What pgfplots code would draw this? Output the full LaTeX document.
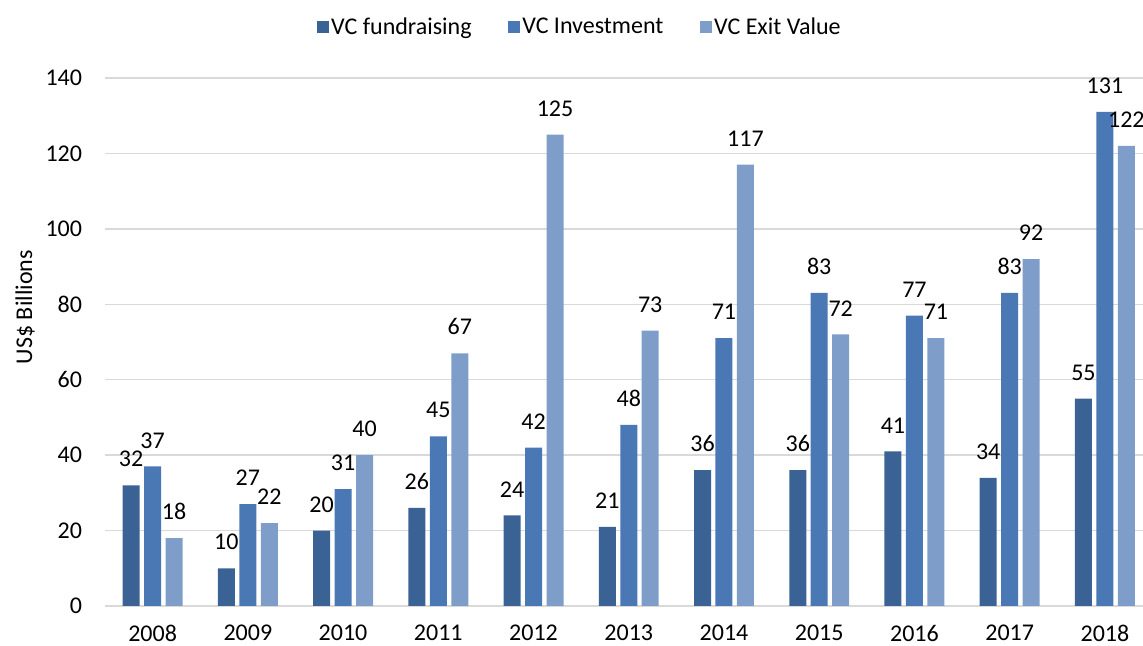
\documentclass[border=0pt]{standalone}
\usepackage{fontspec}
\setmainfont{Carlito}
\usepackage{pgfplots}
\pgfplotsset{compat=1.18}
\definecolor{cA}{RGB}{59,98,148}
\definecolor{cB}{RGB}{74,120,180}
\definecolor{cC}{RGB}{126,158,201}
\definecolor{gridc}{RGB}{217,217,217}
\newcommand\cf{\fontsize{18}{21.6}\selectfont}
\begin{document}
\begin{tikzpicture}
\useasboundingbox (-78.75pt,-30pt) rectangle (778.5pt,454.5pt);
\begin{axis}[
  at={(0pt,0pt)}, anchor=south west,
  scale only axis, width=778.5pt, height=396pt,
  ybar, bar width=12.75pt,
  xmin=-0.5, xmax=10.40, ymin=0, ymax=140,
  ytick={0,20,...,140},
  xtick={0,...,10},
  xticklabels={2008,2009,2010,2011,2012,2013,2014,2015,2016,2017,2018},
  /pgf/number format/assume math mode=true,
  tick label style={font=\cf, text=black},
  yticklabel style={inner sep=0pt, xshift=-17pt},
  xticklabel style={inner sep=0pt, yshift=-14pt},
  major tick length=0pt,
  ymajorgrids, grid style={gridc, line width=1.1pt},
  axis x line*=bottom, axis y line*=left,
  y axis line style={draw=none},
  x axis line style={gridc, line width=1.1pt, -},
  ylabel={US\$ Billions},
  ylabel style={font=\cf, at={(axis description cs:-0.077,0.566)}, anchor=center, rotate=0},
  nodes near coords,
  nodes near coords style={font=\cf, text=black, inner sep=0pt, anchor=south, yshift=13.5pt},
  legend columns=3,
  legend style={draw=none, fill=none, font=\cf, at={(axis description cs:0.4576,1.125)}, anchor=north,
    /tikz/every even column/.append style={column sep=25pt}},
  legend image code/.code={\fill[#1] (0pt,-4.5pt) rectangle (9pt,4.5pt);},
]
\addplot[fill=cA, draw=none, bar shift=-16.1pt] coordinates {(0,32) (1,10) (2,20) (3,26) (4,24) (5,21) (6,36) (7,36) (8,41) (9,34) (10,55)};
\addplot[fill=cB, draw=none, bar shift=0pt] coordinates {(0,37) (1,27) (2,31) (3,45) (4,42) (5,48) (6,71) (7,83) (8,77) (9,83) (10,131)};
\addplot[fill=cC, draw=none, bar shift=16.1pt] coordinates {(0,18) (1,22) (2,40) (3,67) (4,125) (5,73) (6,117) (7,72) (8,71) (9,92) (10,122)};
\legend{VC fundraising, VC Investment, VC Exit Value}
\end{axis}
\end{tikzpicture}
\end{document}
